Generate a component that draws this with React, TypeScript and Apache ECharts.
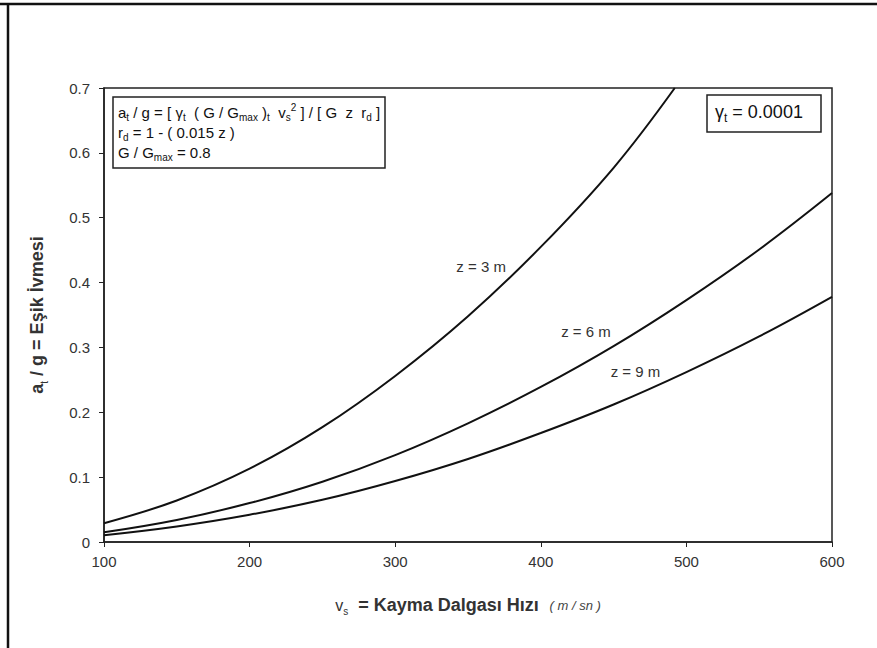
import React, { useEffect, useRef } from "react";
import * as echarts from "echarts";

// Data
const vsZ3 = [100, 150, 200, 250, 300, 350, 400, 450, 492];
const z3 = [0.029, 0.064, 0.113, 0.177, 0.256, 0.348, 0.455, 0.577, 0.7];
const vsAll = [100, 150, 200, 250, 300, 350, 400, 450, 500, 550, 600];
const z6 = [0.015, 0.034, 0.06, 0.093, 0.134, 0.183, 0.239, 0.302, 0.373, 0.451, 0.538];
const z9 = [0.0105, 0.024, 0.042, 0.065, 0.094, 0.128, 0.168, 0.212, 0.262, 0.317, 0.378];
const xTicks = [100, 200, 300, 400, 500, 600];
const yTicks = ["0", "0.1", "0.2", "0.3", "0.4", "0.5", "0.6", "0.7"];
const curveLabels = [
  { name: "z = 3 m", at: [359, 0.425] },
  { name: "z = 6 m", at: [431, 0.325] },
  { name: "z = 9 m", at: [465, 0.263] },
];

const FONT = "'Liberation Sans', Arial, sans-serif";

function pairs(xs: number[], ys: number[]) {
  return xs.map((x, i) => [x, ys[i]]);
}

export default function App() {
  const ref = useRef<HTMLDivElement>(null);
  useEffect(() => {
    if (!ref.current) return;
    const chart = echarts.init(ref.current, null, { renderer: "svg" });
    const sub = { fontSize: 10, fontWeight: "normal", verticalAlign: "bottom", lineHeight: 13, color: "#111", fontFamily: FONT };
    const sup = { fontSize: 10, fontWeight: "normal", verticalAlign: "top", lineHeight: 13, color: "#111", fontFamily: FONT };
    const n = { fontSize: 15, fontWeight: "normal", lineHeight: 20, color: "#111", fontFamily: FONT };
    const lineSeries = (name: string, data: number[][], label: { name: string; at: number[] }) => ({
      type: "line",
      name,
      data,
      smooth: 0.4,
      showSymbol: false,
      symbol: "none",
      clip: true,
      lineStyle: { color: "#111", width: 2 },
      markPoint: {
        symbol: "circle",
        symbolSize: 1,
        itemStyle: { color: "rgba(0,0,0,0)" },
        label: {
          show: true,
          position: "inside",
          formatter: label.name,
          color: "#333",
          fontSize: 15,
          fontFamily: FONT,
        },
        data: [{ coord: label.at, value: label.name }],
      },
    });
    chart.setOption({
      animation: false,
      backgroundColor: "#fff",
      grid: {
        left: 104,
        right: 45,
        top: 88,
        bottom: 106,
        show: true,
        borderColor: "#222",
        borderWidth: 1.5,
        backgroundColor: "transparent",
      },
      xAxis: {
        type: "value",
        min: 100,
        max: 600,
        interval: 100,
        axisLine: { show: true, lineStyle: { color: "#222", width: 1.5 } },
        axisTick: { show: true, length: 5, lineStyle: { color: "#222" } },
        splitLine: { show: false },
        axisLabel: {
          color: "#333",
          fontSize: 15,
          fontFamily: FONT,
          margin: 12,
          formatter: (v: number) => (xTicks.includes(v) ? String(v) : ""),
        },
        name: "{v|v}{s|s}{b|  = Kayma Dalgası Hızı}{i|   ( m / sn )}",
        nameLocation: "middle",
        nameGap: 52,
        nameTextStyle: {
          rich: {
            v: { fontSize: 16, color: "#333", fontFamily: FONT, lineHeight: 22 },
            s: { fontSize: 10, color: "#333", fontFamily: FONT, verticalAlign: "bottom", lineHeight: 14 },
            b: { fontSize: 18, fontWeight: "bold", color: "#333", fontFamily: FONT, lineHeight: 22 },
            i: { fontSize: 13, fontStyle: "italic", color: "#444", fontFamily: FONT, lineHeight: 22 },
          },
        },
      },
      yAxis: {
        type: "value",
        min: 0,
        max: 0.7,
        interval: 0.1,
        axisLine: { show: true, lineStyle: { color: "#222", width: 1.5 } },
        axisTick: { show: true, length: 5, lineStyle: { color: "#222" } },
        splitLine: { show: false },
        axisLabel: {
          color: "#333",
          fontSize: 15,
          fontFamily: FONT,
          margin: 14,
          formatter: (v: number) => yTicks[Math.round(v * 10)] ?? "",
        },
        name: "{a|a}{t|t}{b| / g = Eşik İvmesi}",
        nameLocation: "middle",
        nameRotate: 90,
        nameGap: 55,
        nameTextStyle: {
          rich: {
            a: { fontSize: 18, fontWeight: "bold", color: "#333", fontFamily: FONT, lineHeight: 24 },
            t: { fontSize: 10, color: "#333", fontFamily: FONT, verticalAlign: "bottom", lineHeight: 15 },
            b: { fontSize: 18, fontWeight: "bold", color: "#333", fontFamily: FONT, lineHeight: 24 },
          },
        },
      },
      title: [
        {
          left: 113,
          top: 97,
          padding: [5, 5, 6, 5],
          borderColor: "#222",
          borderWidth: 1.5,
          backgroundColor: "#fff",
          text:
            "{n|a}{s|t}{n| / g = [ γ}{s|t}{n|  ( G / G}{s|max}{n| )}{s|t}{n|  v}{s|s}{p|2}{n| ] / [ G  z  r}{s|d}{n| ]}\n" +
            "{n|r}{s|d}{n| = 1 - ( 0.015 z )}\n" +
            "{n|G / G}{s|max}{n| = 0.8}",
          textStyle: { fontWeight: "normal", rich: { n, s: sub, p: sup } },
        },
        {
          left: 707,
          top: 92,
          padding: [8, 18, 8, 8],
          borderColor: "#222",
          borderWidth: 1.5,
          backgroundColor: "#fff",
          text: "{g|γ}{s|t}{g| = 0.0001}",
          textStyle: {
            fontWeight: "normal",
            rich: {
              g: { fontSize: 18, fontWeight: "normal", color: "#111", fontFamily: FONT, lineHeight: 24 },
              s: { fontSize: 12, fontWeight: "normal", color: "#111", fontFamily: FONT, verticalAlign: "bottom", lineHeight: 16 },
            },
          },
        },
      ],
      graphic: [
        { type: "line", shape: { x1: 0, y1: 4, x2: 877, y2: 4 }, style: { stroke: "#111", lineWidth: 2.5 } },
        { type: "line", shape: { x1: 8, y1: 3, x2: 8, y2: 648 }, style: { stroke: "#111", lineWidth: 2.5 } },
      ],
      series: [
        lineSeries("z = 3 m", pairs(vsZ3, z3), curveLabels[0]),
        lineSeries("z = 6 m", pairs(vsAll, z6), curveLabels[1]),
        lineSeries("z = 9 m", pairs(vsAll, z9), curveLabels[2]),
      ],
    });
    return () => chart.dispose();
  }, []);
  return (
    <div
      ref={ref}
      style={{ position: "fixed", left: 0, top: 0, width: 877, height: 648, background: "#fff" }}
    />
  );
}
